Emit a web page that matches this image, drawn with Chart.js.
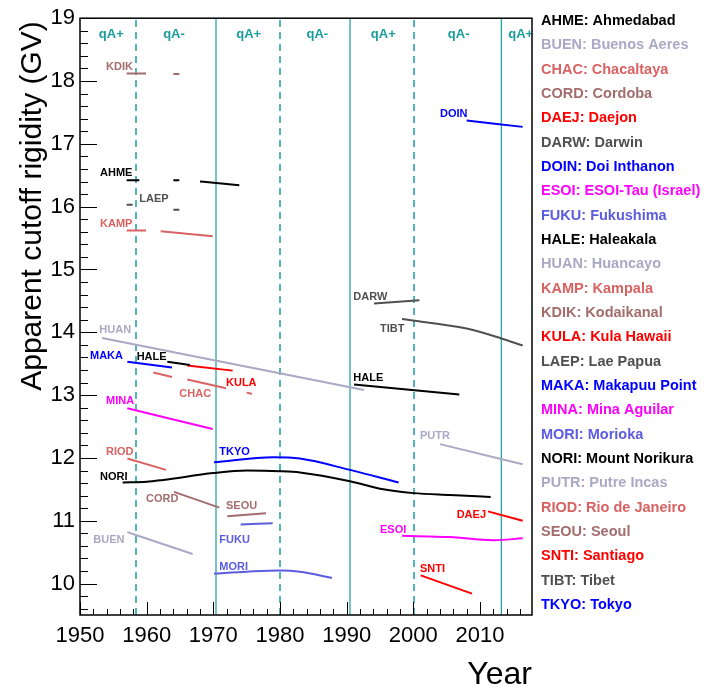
<!DOCTYPE html>
<html>
<head>
<meta charset="utf-8">
<script src="https://cdn.jsdelivr.net/npm/chart.js@4.4.1/dist/chart.umd.min.js"></script>
<style>
html, body { margin: 0; padding: 0; background: #fff; }
#wrap { width: 708px; height: 689px; }
</style>
</head>
<body>
<div id="wrap"><canvas id="myChart" width="708" height="689"></canvas></div>
<script>
// tick labels
const xTicks = [1950, 1960, 1970, 1980, 1990, 2000, 2010];
const yTicks = [10, 11, 12, 13, 14, 15, 16, 17, 18, 19];

// stations (legend order)
const stationCodes = ['AHME', 'BUEN', 'CHAC', 'CORD', 'DAEJ', 'DARW', 'DOIN', 'ESOI', 'FUKU', 'HALE', 'HUAN', 'KAMP', 'KDIK',
    'KULA', 'LAEP', 'MAKA', 'MINA', 'MORI', 'NORI', 'PUTR', 'RIOD', 'SEOU', 'SNTI', 'TIBT', 'TKYO'];
const stationNames = ['Ahmedabad', 'Buenos Aeres', 'Chacaltaya', 'Cordoba', 'Daejon', 'Darwin', 'Doi Inthanon', 'ESOI-Tau (Israel)',
    'Fukushima', 'Haleakala', 'Huancayo', 'Kampala', 'Kodaikanal', 'Kula Hawaii', 'Lae Papua', 'Makapuu Point', 'Mina Aguilar',
    'Morioka', 'Mount Norikura', 'Putre Incas', 'Rio de Janeiro', 'Seoul', 'Santiago', 'Tibet', 'Tokyo'];
const stationColors = ['#000000', '#a9a9c6', '#d96262', '#a36d6d', '#ff0000', '#505050', '#0000ff', '#ff00ff',
    '#5c5ce0', '#000000', '#a9a9c6', '#d96262', '#a36d6d', '#ff0000', '#505050', '#0000ff', '#ff00ff',
    '#5c5ce0', '#000000', '#a9a9c6', '#d96262', '#a36d6d', '#ff0000', '#505050', '#0000ff'];

// cutoff rigidity (GV) vs year, null = gap between periods
const yearsAHME = [1957.0, 1958.9, null, 1964.0, 1964.9, null, 1968.0, 1973.9];
const cutoffAHME = [16.42, 16.42, null, 16.42, 16.42, null, 16.40, 16.34];
const yearsBUEN = [1957.1, 1966.9];
const cutoffBUEN = [10.82, 10.47];
const yearsCHAC = [1961.0, 1963.8, null, 1966.1, 1971.9, null, 1975.0, 1975.8];
const cutoffCHAC = [13.36, 13.29, null, 13.25, 13.11, null, 13.04, 13.02];
const yearsCORD = [1964.1, 1970.9];
const cutoffCORD = [11.46, 11.21];
const yearsDAEJ = [2011.2, 2016.4];
const cutoffDAEJ = [11.15, 11.00];
const yearsDARW = [1994.1, 2000.9];
const cutoffDARW = [14.46, 14.51];
const yearsDOIN = [2008.0, 2016.4];
const cutoffDOIN = [17.37, 17.27];
const yearsESOI = [1998.3, 2005.5, 2012.0, 2016.4];
const cutoffESOI = [10.76, 10.74, 10.69, 10.72];
const yearsFUKU = [1974.1, 1978.9];
const cutoffFUKU = [10.94, 10.96];
const yearsHALE = [1963.1, 1966.5, null, 1991.1, 2006.9];
const cutoffHALE = [13.53, 13.48, null, 13.17, 13.01];
const yearsHUAN = [1953.3, 1992.6];
const cutoffHUAN = [13.91, 13.08];
const yearsKAMP = [1957.0, 1959.9, null, 1962.1, 1969.9];
const cutoffKAMP = [15.62, 15.62, null, 15.61, 15.53];
const yearsKDIK = [1957.0, 1959.9, null, 1964.0, 1964.9];
const cutoffKDIK = [18.12, 18.12, null, 18.11, 18.11];
const yearsKULA = [1966.1, 1972.9];
const cutoffKULA = [13.47, 13.39];
const yearsLAEP = [1957.0, 1957.9, null, 1964.0, 1964.9];
const cutoffLAEP = [16.03, 16.03, null, 15.95, 15.95];
const yearsMAKA = [1957.1, 1963.8];
const cutoffMAKA = [13.53, 13.44];
const yearsMINA = [1957.1, 1969.9];
const cutoffMINA = [12.79, 12.46];
const yearsMORI = [1970.1, 1975.0, 1980.0, 1983.0, 1987.8];
const cutoffMORI = [10.16, 10.19, 10.21, 10.19, 10.09];
const yearsNORI = [1956.4, 1960.0, 1962.5, 1970.0, 1975.0, 1980.0, 1983.0, 1990.5, 1995.5, 2000.0, 2005.5, 2011.6];
const cutoffNORI = [11.61, 11.62, 11.65, 11.76, 11.80, 11.79, 11.77, 11.63, 11.50, 11.44, 11.41, 11.38];
const yearsPUTR = [2004.0, 2016.4];
const cutoffPUTR = [12.22, 11.90];
const yearsRIOD = [1957.1, 1962.9];
const cutoffRIOD = [11.99, 11.81];
const yearsSEOU = [1972.1, 1977.9];
const cutoffSEOU = [11.07, 11.12];
const yearsSNTI = [2001.1, 2008.8];
const cutoffSNTI = [10.13, 9.84];
const yearsTIBT = [1998.3, 2008.0, 2013.0, 2016.4];
const cutoffTIBT = [14.21, 14.06, 13.91, 13.79];
const yearsTKYO = [1970.1, 1979.0, 1983.0, 1990.5, 1997.8];
const cutoffTKYO = [11.93, 12.01, 11.99, 11.81, 11.61];

// solar polarity reversals
const reversalYears = [1958.4, 1970.4, 1980.0, 1990.5, 2000.1, 2013.2];
const reversalDashed = [true, false, true, false, true, false];
const polarityText = ['qA+', 'qA-', 'qA+', 'qA-', 'qA+', 'qA-', 'qA+'];
const polarityYears = [1954.7, 1964.1, 1975.3, 1985.6, 1995.5, 2006.8, 2016.1];

// station tags drawn in the plot
const tagText = ['KDIK', 'AHME', 'LAEP', 'KAMP', 'DOIN', 'HUAN', 'MAKA', 'HALE', 'KULA', 'CHAC', 'MINA', 'DARW', 'TIBT',
    'HALE', 'PUTR', 'RIOD', 'NORI', 'TKYO', 'CORD', 'SEOU', 'FUKU', 'BUEN', 'MORI', 'DAEJ', 'ESOI', 'SNTI'];
const tagYears = [1953.9, 1953.0, 1958.9, 1953.0, 2004.0, 1952.9, 1951.5, 1958.5, 1971.9, 1964.9, 1953.9, 1991.0, 1995.0,
    1991.0, 2001.0, 1953.9, 1953.0, 1970.9, 1959.9, 1971.9, 1970.9, 1952.0, 1970.9, 2006.5, 1995.0, 2001.0];
const tagValues = [18.22, 16.53, 16.13, 15.73, 17.48, 14.03, 13.62, 13.60, 13.19, 13.02, 12.90, 14.57, 14.06,
    13.27, 12.35, 12.10, 11.70, 12.10, 11.34, 11.23, 10.69, 10.69, 10.26, 11.10, 10.85, 10.24];

const stationData = {
    AHME: [yearsAHME, cutoffAHME], BUEN: [yearsBUEN, cutoffBUEN], CHAC: [yearsCHAC, cutoffCHAC],
    CORD: [yearsCORD, cutoffCORD], DAEJ: [yearsDAEJ, cutoffDAEJ], DARW: [yearsDARW, cutoffDARW],
    DOIN: [yearsDOIN, cutoffDOIN], ESOI: [yearsESOI, cutoffESOI], FUKU: [yearsFUKU, cutoffFUKU],
    HALE: [yearsHALE, cutoffHALE], HUAN: [yearsHUAN, cutoffHUAN], KAMP: [yearsKAMP, cutoffKAMP],
    KDIK: [yearsKDIK, cutoffKDIK], KULA: [yearsKULA, cutoffKULA], LAEP: [yearsLAEP, cutoffLAEP],
    MAKA: [yearsMAKA, cutoffMAKA], MINA: [yearsMINA, cutoffMINA], MORI: [yearsMORI, cutoffMORI],
    NORI: [yearsNORI, cutoffNORI], PUTR: [yearsPUTR, cutoffPUTR], RIOD: [yearsRIOD, cutoffRIOD],
    SEOU: [yearsSEOU, cutoffSEOU], SNTI: [yearsSNTI, cutoffSNTI], TIBT: [yearsTIBT, cutoffTIBT],
    TKYO: [yearsTKYO, cutoffTKYO]
};

const Y_MIN = 9.5, Y_MAX = 19, X_MIN = 1950, X_MAX = 2017.8;
const TEAL = '#1a9c9c';
const FONT = "'Liberation Sans', Arial, Helvetica, sans-serif";

let datasets = [];
stationCodes.forEach((code, i) => {
    const [yrs, vals] = stationData[code];
    datasets.push({
        label: code,
        data: yrs.map((y, k) => ({ x: y === null ? NaN : y, y: vals[k] })),
        borderColor: stationColors[i],
        borderWidth: 2,
        pointRadius: 0,
        fill: false,
        spanGaps: false,
        cubicInterpolationMode: 'monotone',
        order: 1
    });
});
reversalYears.forEach((yr, i) => {
    datasets.push({
        label: 'reversal' + i,
        data: [{ x: yr, y: Y_MIN }, { x: yr, y: Y_MAX }],
        borderColor: TEAL,
        borderWidth: reversalDashed[i] ? 1.5 : 1.2,
        borderDash: reversalDashed[i] ? [7, 5] : [],
        pointRadius: 0,
        fill: false,
        order: 10
    });
});

const decorPlugin = {
    id: 'decor',
    afterDatasetsDraw(chart) {
        const ctx = chart.ctx, a = chart.chartArea;
        const xs = chart.scales.x, ys = chart.scales.y;
        ctx.save();
        ctx.beginPath();
        ctx.rect(a.left, a.top, a.right - a.left, a.bottom - a.top);
        ctx.clip();
        ctx.textBaseline = 'middle';
        // polarity labels
        ctx.font = 'bold 13px ' + FONT;
        ctx.fillStyle = TEAL;
        ctx.textAlign = 'center';
        polarityText.forEach((t, i) => {
            ctx.fillText(t, xs.getPixelForValue(polarityYears[i]), ys.getPixelForValue(18.74));
        });
        // station tags
        ctx.font = 'bold 11px ' + FONT;
        ctx.textAlign = 'left';
        tagText.forEach((t, i) => {
            ctx.fillStyle = stationColors[stationCodes.indexOf(t)];
            ctx.fillText(t, xs.getPixelForValue(tagYears[i]), ys.getPixelForValue(tagValues[i]));
        });
        ctx.restore();
    },
    afterDraw(chart) {
        const ctx = chart.ctx, a = chart.chartArea;
        const xs = chart.scales.x, ys = chart.scales.y;
        ctx.save();
        // frame
        ctx.strokeStyle = '#000';
        ctx.lineWidth = 1.5;
        ctx.strokeRect(a.left, a.top, a.right - a.left, a.bottom - a.top);
        // inner tick marks
        ctx.lineWidth = 1;
        ctx.beginPath();
        for (let v = 9.6; v <= 19.001; v += 0.2) {
            const y = Math.round(ys.getPixelForValue(v)) + 0.5;
            const major = Math.abs(v - Math.round(v)) < 0.01;
            ctx.moveTo(a.left, y);
            ctx.lineTo(a.left + (major ? 17 : 8), y);
        }
        for (let v = 1950; v <= 2017; v += 2) {
            const x = Math.round(xs.getPixelForValue(v)) + 0.5;
            const major = v % 10 === 0;
            ctx.moveTo(x, a.bottom);
            ctx.lineTo(x, a.bottom - (major ? 13 : 6));
        }
        ctx.stroke();
        // axis titles
        ctx.fillStyle = '#000';
        ctx.font = '32px ' + FONT;
        ctx.textAlign = 'right';
        ctx.textBaseline = 'alphabetic';
        ctx.fillText('Year', a.right, 684);
        ctx.font = '30px ' + FONT;
        ctx.translate(41, a.top + 3);
        ctx.rotate(-Math.PI / 2);
        ctx.fillText('Apparent cutoff rigidity (GV)', 0, 0);
        ctx.restore();
        // legend
        ctx.save();
        ctx.font = 'bold 14.5px ' + FONT;
        ctx.textAlign = 'left';
        ctx.textBaseline = 'middle';
        stationCodes.forEach((code, i) => {
            ctx.fillStyle = stationColors[i];
            ctx.fillText(code + ': ' + stationNames[i], 541, 21 + i * 24.33);
        });
        ctx.restore();
    }
};

const ctx = document.getElementById('myChart').getContext('2d');
const myChart = new Chart(ctx, {
    type: 'line',
    data: { datasets: datasets },
    options: {
        responsive: false,
        animation: false,
        devicePixelRatio: 1,
        layout: { padding: { top: 15, right: 176, left: 0, bottom: 0 } },
        plugins: { legend: { display: false }, tooltip: { enabled: false } },
        scales: {
            x: {
                type: 'linear', min: X_MIN, max: X_MAX,
                afterFit(s) { s.height = 74; },
                afterBuildTicks(s) { s.ticks = xTicks.map(v => ({ value: v })); },
                grid: { display: false, drawTicks: false },
                border: { display: false },
                ticks: {
                    color: '#000', font: { family: FONT, size: 22 }, padding: 8, maxRotation: 0, autoSkip: false,
                    callback: v => String(v)
                }
            },
            y: {
                type: 'linear', min: Y_MIN, max: Y_MAX,
                afterFit(s) { s.width = 80; },
                afterBuildTicks(s) { s.ticks = yTicks.map(v => ({ value: v })); },
                grid: { display: false, drawTicks: false },
                border: { display: false },
                ticks: { color: '#000', font: { family: FONT, size: 22 }, padding: 5, autoSkip: false, callback: v => String(v) }
            }
        }
    },
    plugins: [decorPlugin]
});
</script>
</body>
</html>
